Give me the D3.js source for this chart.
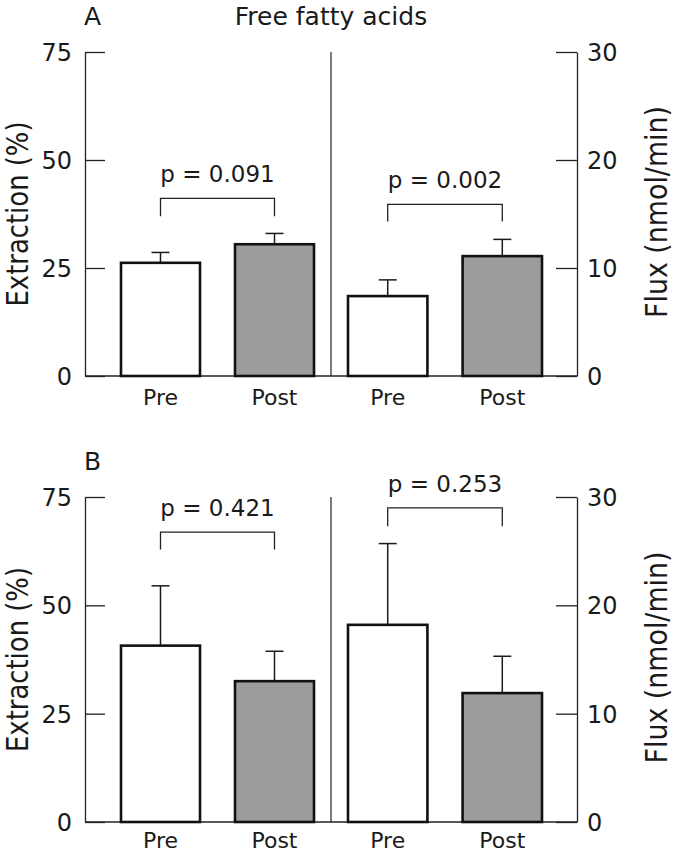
<!DOCTYPE html>
<html>
<head>
<meta charset="utf-8">
<script src="https://cdn.jsdelivr.net/npm/d3@7"></script>
<style>
  html, body { margin: 0; padding: 0; background: #fff; }
  svg { display: block; }
  text { font-family: "DejaVu Sans", sans-serif; fill: #1a1a1a; }
</style>
</head>
<body>
<svg id="chart" width="675" height="853"></svg>
<script>
// ---- data ----
const groups = ["Pre", "Post"];
const panelLabels = ["A", "B"];
const chartTitle = "Free fatty acids";
const leftAxisTitle = "Extraction (%)";
const rightAxisTitle = "Flux (nmol/min)";
const leftTicks = [0, 25, 50, 75];
const rightTicks = [0, 10, 20, 30];

// Panel A
const extractionA = [26.2, 30.5];
const extractionErrA = [2.4, 2.5];
const fluxA = [7.4, 11.1];
const fluxErrA = [1.5, 1.55];
const pExtractionA = "p = 0.091";
const pFluxA = "p = 0.002";
const bracketExtractionA = [41.1, 37.0];   // [top, foot] in % units
const bracketFluxA = [15.9, 14.3];         // in nmol/min units

// Panel B
const extractionB = [40.7, 32.5];
const extractionErrB = [13.8, 6.9];
const fluxB = [18.2, 11.9];
const fluxErrB = [7.5, 3.4];
const pExtractionB = "p = 0.421";
const pFluxB = "p = 0.253";
const bracketExtractionB = [66.9, 62.9];
const bracketFluxB = [29.0, 27.3];

const fills = ["#ffffff", "#9c9c9c"];

// ---- drawing ----
const svg = d3.select("#chart");

const xLeft = d3.scaleBand().domain(groups).range([121, 314]).paddingInner(0.307).paddingOuter(0);
const xRight = d3.scaleBand().domain(groups).range([348, 542]).paddingInner(0.307).paddingOuter(0);

const axisX0 = 85, axisX1 = 577, divX = 331;

const panels = [
  { label: panelLabels[0], top: 52, bottom: 376, catOffset: 29,
    ext: extractionA, extErr: extractionErrA, flux: fluxA, fluxErr: fluxErrA,
    pExt: pExtractionA, pFlux: pFluxA, brExt: bracketExtractionA, brFlux: bracketFluxA, title: true },
  { label: panelLabels[1], top: 497, bottom: 822, catOffset: 26,
    ext: extractionB, extErr: extractionErrB, flux: fluxB, fluxErr: fluxErrB,
    pExt: pExtractionB, pFlux: pFluxB, brExt: bracketExtractionB, brFlux: bracketFluxB, title: false }
];

panels.forEach(p => {
  const g = svg.append("g");
  const yL = d3.scaleLinear().domain([0, 75]).range([p.bottom, p.top]);
  const yR = d3.scaleLinear().domain([0, 30]).range([p.bottom, p.top]);

  // panel letter
  g.append("text").attr("x", 84).attr("y", p.top - 27)
    .attr("font-size", 25).text(p.label);
  if (p.title) {
    g.append("text").attr("x", divX).attr("y", p.top - 27)
      .attr("text-anchor", "middle").attr("font-size", 25).text(chartTitle);
  }

  // left axis
  const la = g.append("g").attr("transform", `translate(${axisX0},0)`)
    .call(d3.axisLeft(yL).tickValues(leftTicks).tickSizeInner(-20).tickSizeOuter(0).tickPadding(13));
  // right axis
  const ra = g.append("g").attr("transform", `translate(${axisX1},0)`)
    .call(d3.axisRight(yR).tickValues(rightTicks).tickSizeInner(-21).tickSizeOuter(0).tickPadding(10));
  [la, ra].forEach(a => {
    a.selectAll("path.domain").attr("stroke", "#222").attr("stroke-width", 1.3);
    a.selectAll(".tick line").attr("stroke", "#222").attr("stroke-width", 1.3);
    a.selectAll(".tick text").attr("font-size", 24).attr("font-family", "DejaVu Sans")
      .attr("fill", "#1a1a1a").attr("dy", "0.36em");
  });

  // baseline and divider
  g.append("line").attr("x1", axisX0).attr("x2", axisX1)
    .attr("y1", p.bottom).attr("y2", p.bottom).attr("stroke", "#222").attr("stroke-width", 1.3);
  g.append("line").attr("x1", divX).attr("x2", divX)
    .attr("y1", p.top).attr("y2", p.bottom).attr("stroke", "#222").attr("stroke-width", 1.2);

  // bars
  const sides = [
    { x: xLeft, y: yL, vals: p.ext, errs: p.extErr, pText: p.pExt, br: p.brExt },
    { x: xRight, y: yR, vals: p.flux, errs: p.fluxErr, pText: p.pFlux, br: p.brFlux }
  ];
  sides.forEach(s => {
    const data = groups.map((k, i) => ({ k, v: s.vals[i], e: s.errs[i], i }));
    const cx = d => s.x(d.k) + s.x.bandwidth() / 2;
    // error bars (behind bars)
    g.selectAll(null).data(data).enter().append("line")
      .attr("x1", cx).attr("x2", cx)
      .attr("y1", d => s.y(d.v)).attr("y2", d => s.y(d.v + d.e))
      .attr("stroke", "#1a1a1a").attr("stroke-width", 1.5);
    g.selectAll(null).data(data).enter().append("line")
      .attr("x1", d => cx(d) - 9).attr("x2", d => cx(d) + 9)
      .attr("y1", d => s.y(d.v + d.e)).attr("y2", d => s.y(d.v + d.e))
      .attr("stroke", "#1a1a1a").attr("stroke-width", 1.5);
    g.selectAll(null).data(data).enter().append("rect")
      .attr("x", d => s.x(d.k)).attr("width", s.x.bandwidth())
      .attr("y", d => s.y(d.v)).attr("height", d => s.y(0) - s.y(d.v))
      .attr("fill", d => fills[d.i]).attr("stroke", "#111").attr("stroke-width", 2.6);

    // bracket
    const xa = cx(data[0]), xb = cx(data[1]);
    const yt = s.y(s.br[0]), yf = s.y(s.br[1]);
    g.append("path")
      .attr("d", `M${xa},${yf}V${yt}H${xb}V${yf}`)
      .attr("fill", "none").attr("stroke", "#222").attr("stroke-width", 1.3);
    g.append("text").attr("x", (xa + xb) / 2).attr("y", yt - 16)
      .attr("text-anchor", "middle").attr("font-size", 23).text(s.pText);

    // category labels
    g.selectAll(null).data(data).enter().append("text")
      .attr("x", cx).attr("y", p.bottom + p.catOffset)
      .attr("text-anchor", "middle").attr("font-size", 22).text(d => d.k);
  });

  // axis titles
  const mid = (p.top + p.bottom) / 2;
  g.append("text")
    .attr("transform", `translate(28,${mid}) rotate(-90)`)
    .attr("text-anchor", "middle").attr("font-size", 31)
    .attr("textLength", 185).attr("lengthAdjust", "spacingAndGlyphs")
    .text(leftAxisTitle);
  g.append("text")
    .attr("transform", `translate(667,${mid - 2}) rotate(-90)`)
    .attr("text-anchor", "middle").attr("font-size", 31)
    .attr("textLength", 212).attr("lengthAdjust", "spacingAndGlyphs")
    .text(rightAxisTitle);
});
</script>
</body>
</html>
